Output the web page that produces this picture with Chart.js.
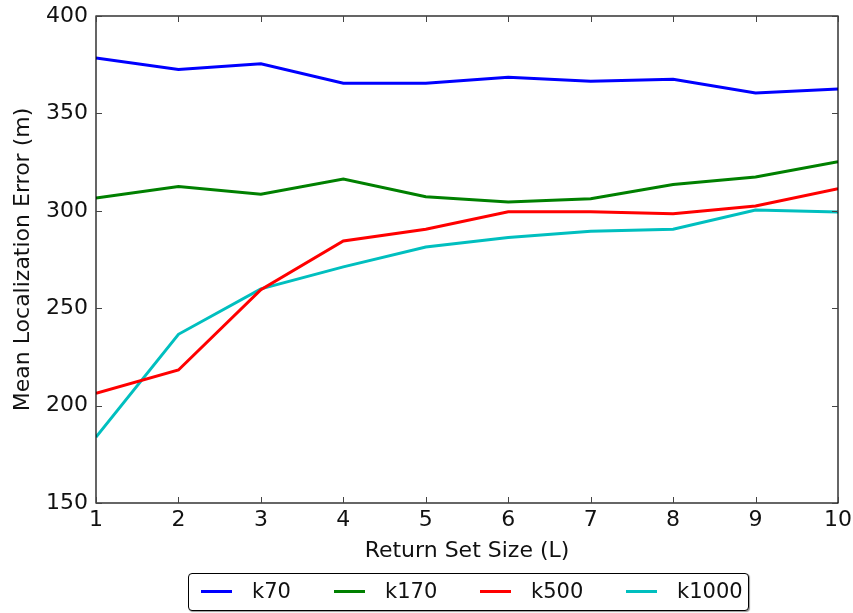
<!DOCTYPE html>
<html>
<head>
<meta charset="utf-8">
<script src="https://cdn.jsdelivr.net/npm/chart.js@4.4.0/dist/chart.umd.min.js"></script>
<style>
  body { margin: 0; background: #fff; font-family: "DejaVu Sans", sans-serif; }
  #wrap { position: relative; width: 853px; height: 613px; }
  #legend {
    position: absolute; left: 188px; top: 573px; width: 561px; height: 38px;
    border: 1.5px solid #000; border-radius: 4px; box-sizing: border-box;
    box-shadow: 1px 1px 1px #999; background: #fff;
  }
  .item { position: absolute; top: 0; height: 35px; line-height: 35px; font-size: 21px; color: #111; }
  .swatch { position: absolute; top: 16px; left: 0; width: 31px; height: 3px; }
  .item span.txt { position: absolute; left: 51px; white-space: nowrap; }
</style>
</head>
<body>
<div id="wrap">
  <canvas id="chart" width="853" height="613"></canvas>
  <div id="legend"></div>
</div>
<script>
// data
const setSizes = [1, 2, 3, 4, 5, 6, 7, 8, 9, 10];
const k70   = [378.5, 372.5, 375.5, 365.5, 365.5, 368.5, 366.5, 367.5, 360.5, 362.5];
const k170  = [306.5, 312.5, 308.5, 316.3, 307.2, 304.5, 306.2, 313.5, 317.4, 325.2];
const k500  = [206.3, 218.3, 259.5, 284.5, 290.5, 299.5, 299.5, 298.5, 302.5, 311.3];
const k1000 = [183.8, 236.6, 259.9, 271.2, 281.4, 286.3, 289.5, 290.5, 300.4, 299.4];
const yTicks = [150, 200, 250, 300, 350, 400];
const xTicks = [1, 2, 3, 4, 5, 6, 7, 8, 9, 10];

const names  = ["k70", "k170", "k500", "k1000"];
const series = [k70, k170, k500, k1000];
const colors = ["#0000ff", "#008000", "#ff0000", "#00bfbf"];

// matplotlib style frame with inward ticks on all sides
const framePlugin = {
  id: 'frame',
  afterDatasetsDraw(chart) {
    const ctx = chart.ctx;
    const a = chart.chartArea;
    const xs = chart.scales.x, ys = chart.scales.y;
    ctx.save();
    ctx.strokeStyle = '#000';
    ctx.lineWidth = 1.2;
    ctx.strokeRect(a.left, a.top, a.right - a.left, a.bottom - a.top);
    ctx.strokeStyle = '#444';
    ctx.lineWidth = 1;
    ctx.beginPath();
    xTicks.forEach(v => {
      const px = Math.round(xs.getPixelForValue(v)) + 0.5;
      ctx.moveTo(px, a.bottom); ctx.lineTo(px, a.bottom - 6);
      ctx.moveTo(px, a.top); ctx.lineTo(px, a.top + 6);
    });
    yTicks.forEach(v => {
      const py = Math.round(ys.getPixelForValue(v)) + 0.5;
      ctx.moveTo(a.left, py); ctx.lineTo(a.left + 6, py);
      ctx.moveTo(a.right, py); ctx.lineTo(a.right - 6, py);
    });
    ctx.stroke();
    ctx.restore();
  }
};

const tickFont = { family: 'DejaVu Sans', size: 22 };

new Chart(document.getElementById('chart'), {
  type: 'line',
  data: {
    datasets: series.map((s, i) => ({
      label: names[i],
      data: s.map((v, j) => ({ x: setSizes[j], y: v })),
      borderColor: colors[i],
      borderWidth: 3,
      pointRadius: 0,
      tension: 0,
      fill: false
    }))
  },
  options: {
    responsive: false,
    animation: false,
    layout: { padding: { top: 16, right: 15, left: 6, bottom: 45 } },
    plugins: { legend: { display: false }, tooltip: { enabled: false } },
    scales: {
      x: {
        type: 'linear', min: 1, max: 10,
        afterBuildTicks: s => { s.ticks = xTicks.map(v => ({ value: v })); },
        afterFit: s => { s.height = 65; s.paddingLeft = 0; s.paddingRight = 0; },
        grid: { display: false, drawTicks: false },
        border: { display: false },
        ticks: { font: tickFont, color: '#111', padding: 4, maxRotation: 0 },
        title: { display: true, text: 'Return Set Size (L)', font: tickFont, color: '#111' }
      },
      y: {
        min: 150, max: 400,
        afterBuildTicks: s => { s.ticks = yTicks.map(v => ({ value: v })); },
        afterFit: s => { s.width = 90; s.paddingTop = 0; s.paddingBottom = 0; },
        grid: { display: false, drawTicks: false },
        border: { display: false },
        ticks: { font: tickFont, color: '#111', padding: 8 },
        title: { display: true, text: 'Mean Localization Error (m)', font: tickFont, color: '#111' }
      }
    }
  },
  plugins: [framePlugin]
});

// legend as text below the plot
const legendPos = [12, 145, 291, 437];
const legend = document.getElementById('legend');
names.forEach((n, i) => {
  const it = document.createElement('div');
  it.className = 'item';
  it.style.left = legendPos[i] + 'px';
  it.innerHTML = '<div class="swatch" style="background:' + colors[i] + '"></div><span class="txt">' + n + '</span>';
  legend.appendChild(it);
});
</script>
</body>
</html>
